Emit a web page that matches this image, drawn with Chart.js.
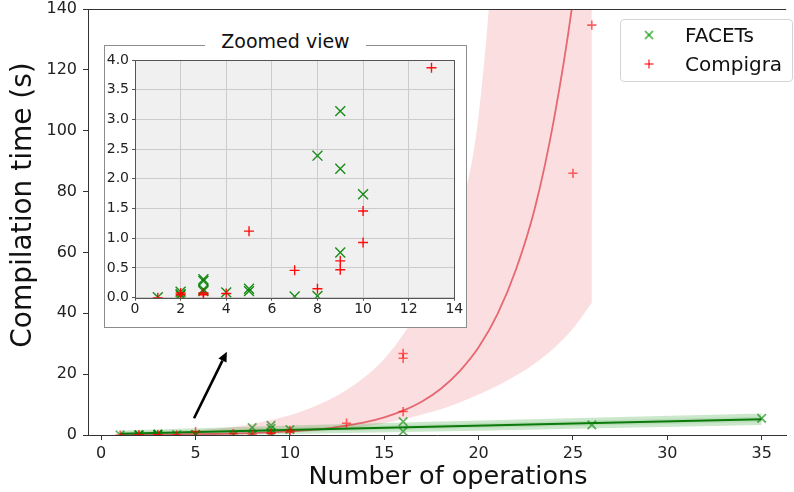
<!DOCTYPE html>
<html>
<head>
<meta charset="utf-8">
<script src="https://cdn.jsdelivr.net/npm/chart.js@4.4.1/dist/chart.umd.min.js"></script>
<style>
  html, body { margin: 0; padding: 0; background: #fff; }
  body { width: 794px; height: 492px; position: relative; overflow: hidden; font-family: "DejaVu Sans", sans-serif; color: #111; }
  #main { position: absolute; left: 0; top: 0; }
  #inset-box { position: absolute; left: 104px; top: 45px; width: 361px; height: 281px; border: 1px solid #8c8c8c; background: #fff; }
  #inset { position: absolute; left: 0; top: 0; }
  #inset-title { position: absolute; left: 0; right: 0; top: -16px; text-align: center; font-size: 19px; line-height: 22px; }
  #inset-title span { background: #fff; padding: 0 16px; }
  #legend { position: absolute; left: 620px; top: 19px; width: 171px; height: 61px; border: 1px solid #d4d4d4; border-radius: 4px; background: rgba(255,255,255,0.85); }
  #legend .item { position: absolute; left: 0; height: 24px; line-height: 24px; font-size: 20px; white-space: nowrap; }
  #legend svg { position: absolute; left: 23px; top: 7px; }
  #legend .lbl { position: absolute; left: 64px; top: 0; }
</style>
</head>
<body>
<canvas id="main" width="794" height="492"></canvas>
<div id="inset-box">
  <canvas id="inset" width="361" height="281"></canvas>
  <div id="inset-title"><span>Zoomed view</span></div>
</div>
<div id="legend"></div>
<script>
// ---- data ----
const seriesNames = ['FACETs', 'Compigra'];

const facetsOps  = [1, 2, 2, 2, 3, 3, 3, 3, 4, 5, 5, 7, 8, 8, 9, 9, 9, 10, 16, 16, 26, 35];
const facetsTime = [0.01, 0.04, 0.06, 0.10, 0.11, 0.14, 0.28, 0.31, 0.09, 0.11, 0.15, 0.02, 0.03, 2.39, 0.76, 2.17, 3.14, 1.74, 1.2, 4.4, 3.3, 5.5];

const compigraOps  = [1, 2, 2, 3, 3, 4, 5, 7, 8, 9, 9, 10, 10, 13, 16, 16, 16, 25, 26];
const compigraTime = [0.0, 0.05, 0.08, 0.05, 0.08, 0.07, 1.12, 0.46, 0.15, 0.47, 0.62, 0.93, 1.46, 3.87, 7.7, 25.2, 26.8, 86, 134.7];

// exponential fit of Compigra and its band
const compigraFitOps = [1, 2, 3, 4, 5, 6, 7, 8, 9, 10, 11, 12, 13, 14, 15, 16, 17, 18, 19, 20, 21, 22, 23, 24, 25, 26];
const compigraFit  = [0.07, 0.09, 0.12, 0.17, 0.24, 0.33, 0.45, 0.62, 0.86, 1.18, 1.6, 2.2, 3.1, 4.2, 5.8, 8.0, 11, 15.2, 21, 28.8, 39.7, 54.7, 75, 104, 143, 197];
const compigraLow  = [0.04, 0.06, 0.08, 0.12, 0.17, 0.25, 0.35, 0.5, 0.7, 0.95, 1.25, 1.65, 2.2, 2.9, 3.9, 5.2, 6.7, 8.5, 10.7, 13.3, 16.2, 19.6, 23.6, 28.6, 35, 43.5];
const compigraHigh = [0.4, 0.6, 0.8, 1.1, 1.5, 2.0, 2.7, 3.6, 4.9, 6.5, 8.6, 11.3, 14.8, 19.2, 25, 33, 43, 56, 73, 105, 180, 300, 500, 850, 1450, 2500];

// linear fit of FACETs and its bands
const facetsFitOps = [1, 35];
const facetsFit    = [0.44, 5.2];
const facetsBandOps  = [1, 10, 20, 35];
const facetsOuterLow  = [-0.56, 0.3, 1.4, 3.3];
const facetsOuterHigh = [1.44, 3.1, 4.8, 7.1];
const facetsInnerLow  = [-0.16, 1.0, 2.3, 4.3];
const facetsInnerHigh = [1.04, 2.4, 3.9, 6.1];

const mainXTicks = [0, 5, 10, 15, 20, 25, 30, 35];
const mainYTicks = [0, 20, 40, 60, 80, 100, 120, 140];
const insetXTicks = [0, 2, 4, 6, 8, 10, 12, 14];
const insetYTicks = [0, 0.5, 1.0, 1.5, 2.0, 2.5, 3.0, 3.5, 4.0];

const arrowFrom = { x: 4.92, y: 5.5 };
const arrowTo   = { x: 6.66, y: 27.4 };

const xTitle = 'Number of operations';
const yTitle = 'Compilation time (s)';

// ---- helpers ----
const pts = (xs, ys) => xs.map((x, i) => ({ x, y: ys[i] }));
const fixTicks = list => s => { s.ticks = list.map(v => ({ value: v })); };
// fixed axis thickness, no extra padding for edge labels
const fitX = h => s => { s.height = h; s.paddingLeft = 0; s.paddingRight = 0; };
const fitY = w => s => { s.width = w; s.paddingTop = 0; s.paddingBottom = 0; };

Chart.defaults.font.family = '"DejaVu Sans", sans-serif';
Chart.defaults.color = '#222';

const GREEN_PT = 'rgba(0,128,0,0.6)';
const RED_PT = 'rgba(255,0,0,0.6)';

// ---- main chart ----
const mainDecor = {
  id: 'mainDecor',
  afterDraw(chart) {
    const { ctx, chartArea: a, scales: { x, y } } = chart;
    ctx.save();
    // top spine
    ctx.strokeStyle = '#333'; ctx.lineWidth = 1;
    ctx.beginPath(); ctx.moveTo(a.left, a.top + 0.5); ctx.lineTo(a.right, a.top + 0.5); ctx.stroke();
    // arrow pointing to the inset
    const x0 = x.getPixelForValue(arrowFrom.x), y0 = y.getPixelForValue(arrowFrom.y);
    const x1 = x.getPixelForValue(arrowTo.x), y1 = y.getPixelForValue(arrowTo.y);
    const ang = Math.atan2(y1 - y0, x1 - x0), hl = 10, hw = 4.5;
    const bx = x1 - hl * Math.cos(ang), by = y1 - hl * Math.sin(ang);
    ctx.strokeStyle = '#000'; ctx.fillStyle = '#000'; ctx.lineWidth = 2.6;
    ctx.beginPath(); ctx.moveTo(x0, y0); ctx.lineTo(bx, by); ctx.stroke();
    ctx.beginPath();
    ctx.moveTo(x1, y1);
    ctx.lineTo(bx + hw * Math.sin(ang), by - hw * Math.cos(ang));
    ctx.lineTo(bx - hw * Math.sin(ang), by + hw * Math.cos(ang));
    ctx.closePath(); ctx.fill();
    ctx.fillStyle = '#111'; ctx.textAlign = 'center'; ctx.textBaseline = 'middle';
    // x axis title, centred on the full (cropped) axis of the original
    ctx.font = '25.5px "DejaVu Sans"';
    ctx.fillText(xTitle, 448, 477);
    // y axis title (sits a bit above the axis middle in the original)
    ctx.translate(24, 205);
    ctx.rotate(-Math.PI / 2);
    ctx.font = '28px "DejaVu Sans"';
    ctx.fillText(yTitle, 0, 0);
    ctx.restore();
  }
};

const line = (data, color, width, order, extra) => Object.assign({
  type: 'line', data, borderColor: color, borderWidth: width, pointRadius: 0,
  fill: false, order, cubicInterpolationMode: 'monotone'
}, extra || {});

new Chart(document.getElementById('main'), {
  type: 'scatter',
  data: {
    datasets: [
      // 0,1: Compigra band
      line(pts(compigraFitOps, compigraLow), 'transparent', 0, 10),
      line(pts(compigraFitOps, compigraHigh), 'transparent', 0, 10, { fill: '-1', backgroundColor: 'rgba(228,80,92,0.19)' }),
      // 2,3: FACETs outer band
      line(pts(facetsBandOps, facetsOuterLow), 'transparent', 0, 9, { cubicInterpolationMode: 'default' }),
      line(pts(facetsBandOps, facetsOuterHigh), 'transparent', 0, 9, { fill: '-1', backgroundColor: 'rgba(0,140,0,0.2)', cubicInterpolationMode: 'default' }),
      // 4,5: FACETs inner band
      line(pts(facetsBandOps, facetsInnerLow), 'transparent', 0, 8, { cubicInterpolationMode: 'default' }),
      line(pts(facetsBandOps, facetsInnerHigh), 'transparent', 0, 8, { fill: '-1', backgroundColor: 'rgba(0,120,0,0.1)', cubicInterpolationMode: 'default' }),
      // fits
      line(pts(compigraFitOps, compigraFit), 'rgba(220,40,52,0.65)', 1.8, 6),
      line(pts(facetsFitOps, facetsFit), '#0a7a0a', 2, 5),
      // measurements
      { label: seriesNames[0], data: pts(facetsOps, facetsTime), pointStyle: 'crossRot', pointRadius: 6,
        borderColor: GREEN_PT, pointBorderWidth: 1.8, order: 2 },
      { label: seriesNames[1], data: pts(compigraOps, compigraTime), pointStyle: 'cross', pointRadius: 4.6,
        borderColor: RED_PT, pointBorderWidth: 1.6, order: 1 }
    ]
  },
  options: {
    responsive: false, animation: false, devicePixelRatio: 1,
    layout: { padding: { top: 9, right: 0, left: 0, bottom: 0 } },
    plugins: { legend: { display: false }, tooltip: { enabled: false } },
    scales: {
      x: {
        type: 'linear', min: -0.7, max: 36.3,
        afterBuildTicks: fixTicks(mainXTicks),
        afterFit: fitX(57),
        grid: { display: true, drawOnChartArea: false, tickLength: 5, tickColor: '#333' },
        border: { color: '#333', width: 1 },
        ticks: { font: { size: 16 }, color: '#222', padding: 4, maxRotation: 0 }
      },
      y: {
        type: 'linear', min: 0, max: 140,
        afterBuildTicks: fixTicks(mainYTicks),
        afterFit: fitY(88),
        grid: { display: true, drawOnChartArea: false, tickLength: 5, tickColor: '#333' },
        border: { color: '#333', width: 1 },
        ticks: { font: { size: 16, lineHeight: 1 }, color: '#222', padding: 6 }
      }
    }
  },
  plugins: [mainDecor]
});

// ---- inset chart ----
const insetDecor = {
  id: 'insetDecor',
  beforeDraw(chart) {
    const { ctx, chartArea: a } = chart;
    ctx.save(); ctx.fillStyle = '#f0f0f0';
    ctx.fillRect(a.left, a.top, a.right - a.left, a.bottom - a.top);
    ctx.restore();
  },
  afterDraw(chart) {
    const { ctx, chartArea: a } = chart;
    ctx.save(); ctx.strokeStyle = '#555'; ctx.lineWidth = 1;
    ctx.strokeRect(Math.round(a.left) + 0.5, Math.round(a.top) + 0.5, Math.round(a.right - a.left), Math.round(a.bottom - a.top));
    ctx.restore();
  }
};

new Chart(document.getElementById('inset'), {
  type: 'scatter',
  data: {
    datasets: [
      { label: seriesNames[0], data: pts(facetsOps, facetsTime), pointStyle: 'crossRot', pointRadius: 7,
        borderColor: 'rgba(0,128,0,0.9)', pointBorderWidth: 1.4, order: 2 },
      { label: seriesNames[1], data: pts(compigraOps, compigraTime), pointStyle: 'cross', pointRadius: 5,
        borderColor: 'rgba(255,0,0,0.95)', pointBorderWidth: 1.4, order: 1 }
    ]
  },
  options: {
    responsive: false, animation: false, devicePixelRatio: 1,
    layout: { padding: { top: 14, right: 11.7, left: 0, bottom: 0 } },
    plugins: { legend: { display: false }, tooltip: { enabled: false } },
    scales: {
      x: {
        type: 'linear', min: 0, max: 14,
        afterBuildTicks: fixTicks(insetXTicks),
        afterFit: fitX(29.3),
        grid: { color: '#cbcbcb', tickLength: 3, tickColor: '#555' },
        border: { display: false },
        ticks: { font: { size: 14 }, color: '#222', padding: 0, maxRotation: 0 }
      },
      y: {
        type: 'linear', min: 0, max: 4,
        afterBuildTicks: fixTicks(insetYTicks),
        afterFit: fitY(30),
        grid: { color: '#cbcbcb', tickLength: 3, tickColor: '#555' },
        border: { display: false },
        ticks: { font: { size: 14, lineHeight: 1 }, color: '#222', padding: 3, callback: v => v.toFixed(1) }
      }
    }
  },
  plugins: [insetDecor]
});

// ---- legend ----
const legendMarks = [
  '<line x1="1" y1="1" x2="9" y2="9"/><line x1="9" y1="1" x2="1" y2="9"/>',
  '<line x1="5" y1="0.5" x2="5" y2="9.5"/><line x1="0.5" y1="5" x2="9.5" y2="5"/>'
];
const legendColors = ['rgba(0,150,0,0.6)', 'rgba(255,0,0,0.6)'];
document.getElementById('legend').innerHTML = seriesNames.map((name, i) =>
  `<div class="item" style="top:${3 + i * 29}px; width:100%">
     <svg width="10" height="10" stroke="${legendColors[i]}" stroke-width="1.8">${legendMarks[i]}</svg>
     <span class="lbl">${name}</span></div>`).join('');
</script>
</body>
</html>
